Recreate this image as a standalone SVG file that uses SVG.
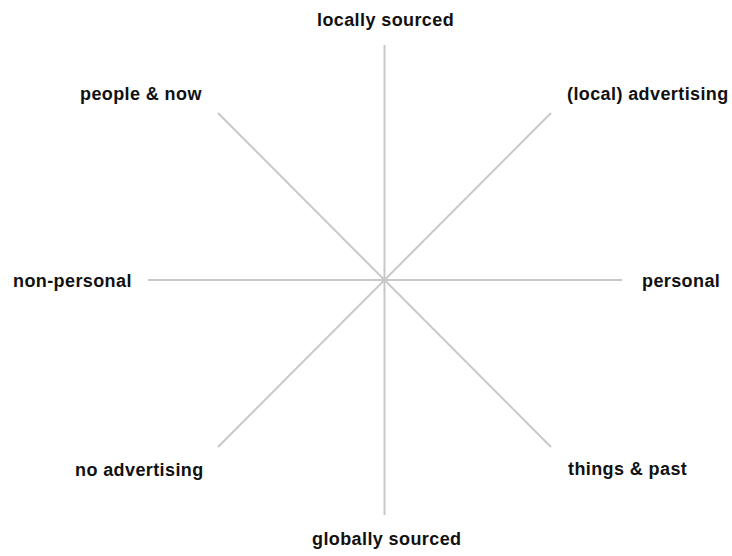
<svg xmlns="http://www.w3.org/2000/svg" width="732" height="556" viewBox="0 0 732 556">
<style>
.ax{stroke:#c8c8c8;stroke-width:2;fill:none}
.lb{font-family:"Liberation Sans",Arial,sans-serif;font-weight:bold;font-size:18px;letter-spacing:0.4px;fill:#111}
</style>
<rect width="732" height="556" fill="#fff"/>
<g id="connectors">
<line class="ax" x1="384.5" y1="45" x2="384.5" y2="515"/>
<line class="ax" x1="148" y1="280" x2="622" y2="280"/>
<line class="ax" x1="218" y1="113" x2="551" y2="447"/>
<line class="ax" x1="551" y1="113" x2="218" y2="447"/>
</g>
<g id="locally-sourced"><text class="lb" x="317" y="26">locally sourced</text></g>
<g id="people-now"><text class="lb" x="80" y="100">people &amp; now</text></g>
<g id="local-advertising"><text class="lb" x="567" y="100">(local) advertising</text></g>
<g id="non-personal"><text class="lb" x="13" y="287">non-personal</text></g>
<g id="personal"><text class="lb" x="642" y="287">personal</text></g>
<g id="no-advertising"><text class="lb" x="75" y="476">no advertising</text></g>
<g id="things-past"><text class="lb" x="568" y="475">things &amp; past</text></g>
<g id="globally-sourced"><text class="lb" x="312" y="545">globally sourced</text></g>
</svg>
